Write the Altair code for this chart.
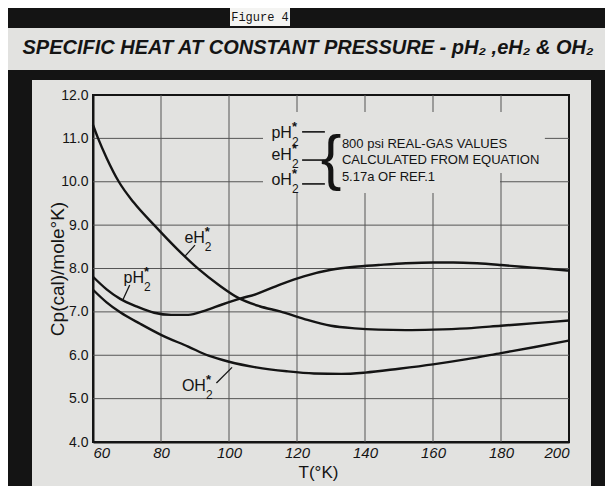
import altair as alt
import pandas as pd

# ---------------- values ----------------
T_para = [60, 64, 68, 73, 78, 83, 88, 93, 98, 103, 108, 115, 122, 130, 137, 144, 152, 160, 166, 173, 180, 186, 193, 200]
Cp_para = [7.81, 7.52, 7.30, 7.12, 6.98, 6.93, 6.93, 7.03, 7.17, 7.30, 7.41, 7.63, 7.82, 7.97, 8.04, 8.08, 8.12, 8.14, 8.14, 8.12, 8.08, 8.04, 8.00, 7.95]

T_equil = [60, 61.5, 64, 67.6, 72, 78, 85, 91, 97, 103, 109, 115, 122, 130, 137, 144, 152, 160, 170, 180, 190, 200]
Cp_equil = [11.31, 11.0, 10.55, 10.0, 9.52, 9.0, 8.43, 7.99, 7.62, 7.31, 7.13, 7.01, 6.84, 6.68, 6.62, 6.59, 6.58, 6.59, 6.62, 6.68, 6.74, 6.80]

T_ortho = [60, 64, 68, 74, 80, 88, 94, 100, 108, 117, 125, 133, 140, 150, 160, 170, 180, 190, 200]
Cp_ortho = [7.51, 7.22, 6.99, 6.72, 6.47, 6.20, 5.99, 5.85, 5.72, 5.63, 5.58, 5.57, 5.60, 5.69, 5.79, 5.91, 6.05, 6.19, 6.34]

x_ticks = [60, 80, 100, 120, 140, 160, 180, 200]
y_ticks = [4, 5, 6, 7, 8, 9, 10, 11, 12]

# curve labels (anchor = end of "H", on its baseline)
label_main = ["pH", "eH", "OH"]
label_T = [75.0, 92.9, 93.2]
label_Cp = [7.67, 8.59, 5.18]
leader_T = [70.8, 90.0, 96.3]
leader_Cp = [7.62, 8.54, 5.36]
leader_T2 = [68.8, 87.0, 100.9]
leader_Cp2 = [7.28, 8.28, 5.72]

# key in the upper right
key_main = ["pH", "eH", "oH"]
key_T = [118.5, 118.5, 118.5]
key_Cp = [11.01, 10.50, 9.93]
key_dash_T = [121.5, 128.2]
key_dash_Cp = [11.15, 10.50, 9.95]
note_lines = ["800 psi REAL-GAS VALUES", "CALCULATED FROM EQUATION", "5.17a OF REF.1"]
note_T = [133.2, 133.2, 133.2]
note_Cp = [10.88, 10.49, 10.10]
brace_T = [130.0]
brace_Cp = [10.52]
# blank paper behind the key (grid interrupted there)
cover_T = [110.0, 110.0]
cover_T2 = [192.9, 179.7]
cover_Cp = [11.61, 10.20]
cover_Cp2 = [10.20, 9.74]

TITLE = "SPECIFIC HEAT AT CONSTANT PRESSURE - pH\u2082 ,eH\u2082 & OH\u2082"

# ---------------- styling ----------------
PAPER = "#e2e2e0"
INK = "#141414"
GRID = "#555555"
W, H = 476, 347
FONT = "Liberation Sans"

xs = alt.Scale(domain=[60, 200], nice=False, zero=False)
ys = alt.Scale(domain=[4, 12], nice=False, zero=False)

X_AX = alt.Axis(values=x_ticks, format="d", title="T(\u00b0K)", grid=False, ticks=False,
                labelPadding=3, labelFontSize=15, labelFontStyle="italic",
                titleFontSize=17, titleFontWeight="normal", titleX=225, titleY=30,
                titleBaseline="middle")
Y_AX = alt.Axis(values=y_ticks, format=".1f", title="Cp(cal)/mole\u00b0K)", grid=False,
                ticks=False, labelPadding=5, labelFontSize=14,
                titleFontSize=19, titleFontWeight="normal", titleX=-36,
                titleBaseline="middle", titleAlign="center")


def X(f="T"):
    return alt.X(f"{f}:Q", scale=xs, axis=X_AX, title="T(\u00b0K)")


def Y(f="Cp"):
    return alt.Y(f"{f}:Q", scale=ys, axis=Y_AX, title="Cp(cal)/mole\u00b0K)")


curves = pd.concat([
    pd.DataFrame({"T": T_para, "Cp": Cp_para, "series": "pH2"}),
    pd.DataFrame({"T": T_equil, "Cp": Cp_equil, "series": "eH2"}),
    pd.DataFrame({"T": T_ortho, "Cp": Cp_ortho, "series": "oH2"}),
])

labels = pd.DataFrame({"T": label_T, "Cp": label_Cp, "main": label_main})
keys = pd.DataFrame({"T": key_T, "Cp": key_Cp, "main": key_main})
allLabels = pd.concat([labels, keys])
leaders = pd.DataFrame({"T": leader_T, "Cp": leader_Cp, "T2": leader_T2, "Cp2": leader_Cp2})
dashes = pd.DataFrame({"T": [key_dash_T[0]] * 3, "T2": [key_dash_T[1]] * 3, "Cp": key_dash_Cp})
notes = pd.DataFrame({"T": note_T, "Cp": note_Cp, "txt": note_lines})
brace = pd.DataFrame({"T": brace_T, "Cp": brace_Cp})
cover = pd.DataFrame({"T": cover_T, "T2": cover_T2, "Cp": cover_Cp, "Cp2": cover_Cp2})
vgrid = pd.DataFrame({"T": x_ticks[1:-1]})
hgrid = pd.DataFrame({"Cp": y_ticks[1:-1]})


def band(x0, x1, y0, y1, color=INK):
    return alt.Chart().mark_rect(color=color).encode(
        x=alt.value(x0), x2=alt.value(x1), y=alt.value(y0), y2=alt.value(y1))


# scanned-page black frame around the paper
frame = [
    band(-85, 512, -87, -67),
    band(-85, 512, -25, -15),
    band(-85, -61, -25, 391),
    band(498, 512, -25, 391),
    band(137, 197, -87, -69, "#f4f4f2"),
]
fig_label = alt.Chart().mark_text(font="Liberation Mono", fontSize=12, color=INK, baseline="middle").encode(
    x=alt.value(167), y=alt.value(-78), text=alt.value("Figure 4"))
title = alt.Chart().mark_text(font=FONT, fontSize=20, fontStyle="italic",
                              fontWeight="bold", color=INK, baseline="middle").encode(
    x=alt.value(215), y=alt.value(-47), text=alt.value(TITLE))

vgrid_l = alt.Chart(vgrid).mark_rule(color=GRID, strokeWidth=1).encode(
    x=X(), y=alt.value(0), y2=alt.value(H))
hgrid_l = alt.Chart(hgrid).mark_rule(color=GRID, strokeWidth=1).encode(
    y=Y(), x=alt.value(0), x2=alt.value(W))

cover_l = alt.Chart(cover).mark_rect(color=PAPER).encode(
    x=X(), x2="T2:Q", y=Y(), y2="Cp2:Q")

lines = alt.Chart(curves).mark_line(strokeWidth=2.4, color=INK, interpolate="monotone").encode(
    x=X(), y=Y(), detail="series:N")

leader_l = alt.Chart(leaders).mark_rule(color=INK, strokeWidth=1.3).encode(
    x=X(), y=Y(), x2="T2:Q", y2="Cp2:Q")
dash_l = alt.Chart(dashes).mark_rule(color=INK, strokeWidth=1.6).encode(
    x=X(), x2="T2:Q", y=Y())

main_t = alt.Chart(allLabels).mark_text(font=FONT, fontSize=16, color=INK, align="right",
                                        baseline="alphabetic").encode(
    x=X(), y=Y(), text="main:N")
sub_t = alt.Chart(allLabels).mark_text(font=FONT, fontSize=12, color=INK, align="left",
                                       baseline="alphabetic", dx=0, dy=8).encode(
    x=X(), y=Y(), text=alt.value("2"))
star_t = alt.Chart(allLabels).mark_text(font=FONT, fontSize=13, fontWeight="bold", color=INK, align="left",
                                        baseline="alphabetic", dx=0, dy=-7).encode(
    x=X(), y=Y(), text=alt.value("*"))

brace_t = alt.Chart(brace).mark_text(font="Liberation Sans", fontSize=62, color=INK, align="center",
                                     baseline="middle").encode(
    x=X(), y=Y(), text=alt.value("{"))
note_t = alt.Chart(notes).mark_text(font=FONT, fontSize=13, color=INK, align="left",
                                    baseline="middle").encode(
    x=X(), y=Y(), text="txt:N")

chart = alt.layer(
    *frame, fig_label, title, vgrid_l, hgrid_l, cover_l, lines, leader_l, dash_l,
    main_t, sub_t, star_t, brace_t, note_t,
).properties(
    width=W, height=H,
    autosize=alt.AutoSizeParams(type="none"),
    padding={"left": 85, "top": 87, "right": 36, "bottom": 44},
    background=PAPER,
).configure_view(
    stroke=INK, strokeWidth=2,
).configure_axis(
    domainColor=INK, domainWidth=2,
    labelColor=INK, titleColor=INK, labelFont=FONT, titleFont=FONT,
)

chart.save("out.html", embed_options={"renderer": "svg", "actions": False})
